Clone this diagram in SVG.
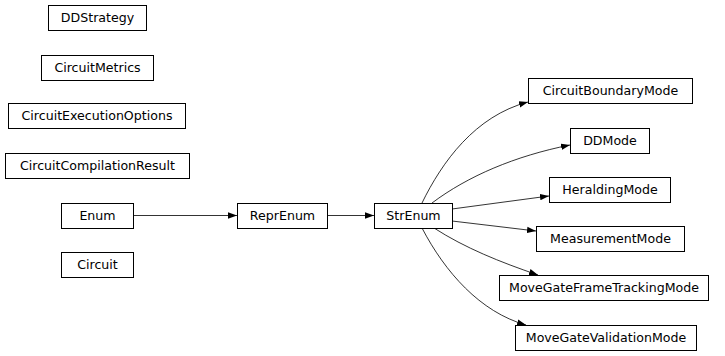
<svg xmlns="http://www.w3.org/2000/svg" width="725" height="356" viewBox="0 0 725 356">
<style>
.n rect{fill:#fff;stroke:#000;stroke-width:1}
.n text{font-family:"DejaVu Sans",sans-serif;font-size:12.6px;fill:#000;text-anchor:middle}
.e path{fill:none;stroke:#000;stroke-width:0.8}
</style>
<defs>
<marker id="a" markerUnits="userSpaceOnUse" markerWidth="10" markerHeight="8" refX="9" refY="4" orient="auto">
<path d="M0,0.8 L9,4 L0,7.2 Z" fill="#000"/>
</marker>
</defs>
<rect width="725" height="356" fill="#fff"/>
<g id="edges" class="e">
<path d="M133,215.5 L237,215.5" marker-end="url(#a)"/>
<path d="M327,215.5 L374,215.5" marker-end="url(#a)"/>
<path d="M422,203 C442,162 475,116 528,102" marker-end="url(#a)"/>
<path d="M432,203 C468,176 515,156 570,145" marker-end="url(#a)"/>
<path d="M452,209 L549,196" marker-end="url(#a)"/>
<path d="M452,221 L536,231" marker-end="url(#a)"/>
<path d="M434,228 C465,248 500,262 538,275" marker-end="url(#a)"/>
<path d="M422,228 C445,272 480,312 526,325" marker-end="url(#a)"/>
</g>
<g id="DDStrategy" class="n"><rect x="48.5" y="5.5" width="98" height="25"/><text x="97.5" y="22">DDStrategy</text></g>
<g id="CircuitMetrics" class="n"><rect x="41.5" y="55.5" width="112" height="25"/><text x="97.5" y="72">CircuitMetrics</text></g>
<g id="CircuitExecutionOptions" class="n"><rect x="8.5" y="103.5" width="177" height="25"/><text x="97" y="120">CircuitExecutionOptions</text></g>
<g id="CircuitCompilationResult" class="n"><rect x="5.5" y="153.5" width="184" height="25"/><text x="97.5" y="170">CircuitCompilationResult</text></g>
<g id="Enum" class="n"><rect x="61.5" y="203.5" width="72" height="25"/><text x="97.5" y="220">Enum</text></g>
<g id="Circuit" class="n"><rect x="61.5" y="252.5" width="72" height="25"/><text x="97.5" y="269">Circuit</text></g>
<g id="ReprEnum" class="n"><rect x="237.5" y="203.5" width="90" height="25"/><text x="282.5" y="220">ReprEnum</text></g>
<g id="StrEnum" class="n"><rect x="374.5" y="203.5" width="78" height="25"/><text x="413.5" y="220">StrEnum</text></g>
<g id="CircuitBoundaryMode" class="n"><rect x="528.5" y="78.5" width="164" height="25"/><text x="610.5" y="95">CircuitBoundaryMode</text></g>
<g id="DDMode" class="n"><rect x="570.5" y="128.5" width="79" height="25"/><text x="610" y="145">DDMode</text></g>
<g id="HeraldingMode" class="n"><rect x="549.5" y="177.5" width="121" height="25"/><text x="610" y="194">HeraldingMode</text></g>
<g id="MeasurementMode" class="n"><rect x="536.5" y="226.5" width="148" height="25"/><text x="610.5" y="243">MeasurementMode</text></g>
<g id="MoveGateFrameTrackingMode" class="n"><rect x="499.5" y="275.5" width="209" height="25"/><text x="604" y="292">MoveGateFrameTrackingMode</text></g>
<g id="MoveGateValidationMode" class="n"><rect x="515.5" y="325.5" width="181" height="25"/><text x="606" y="342">MoveGateValidationMode</text></g>
</svg>
